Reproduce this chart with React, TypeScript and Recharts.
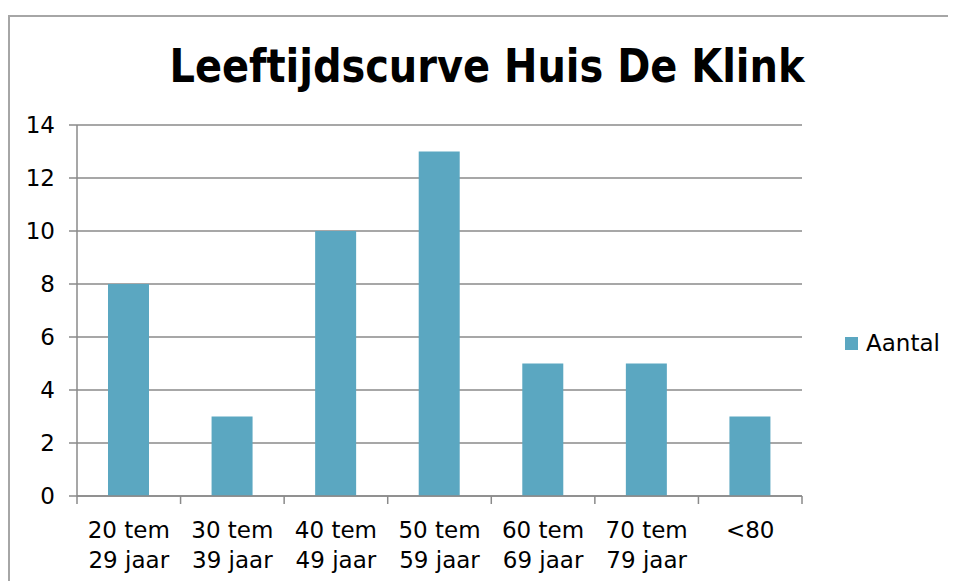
import React from "react";
import { BarChart, Bar, XAxis, YAxis, CartesianGrid } from "recharts";

const categories = ["20 tem|29 jaar", "30 tem|39 jaar", "40 tem|49 jaar", "50 tem|59 jaar", "60 tem|69 jaar", "70 tem|79 jaar", "<80"];
const aantal = [8, 3, 10, 13, 5, 5, 3];
const yTicks = [0, 2, 4, 6, 8, 10, 12, 14];
const seriesName = "Aantal";
const title = "Leeftijdscurve Huis De Klink";

const data = categories.map((c, i) => ({ name: c, Aantal: aantal[i] }));

const W = 948;
const H = 573;
const M = { top: 117, right: 154, bottom: 5, left: 9 };
const YW = 60;
const XH = 80;
const PLOT_W = W - M.left - M.right - YW;
const BW = PLOT_W / categories.length;
const FONT = "'DejaVu Sans', Verdana, sans-serif";
const AXIS = "#8a8a8a";
const BAR = "#5ba7c1";

const XTick = (props: any) => {
  const { x, y, payload, index } = props;
  const lines = String(payload.value).split("|");
  const top = y - 8;
  return (
    <g>
      <line x1={x - BW / 2} x2={x - BW / 2} y1={top} y2={top + 8} stroke={AXIS} strokeWidth={1.5} />
      {index === categories.length - 1 && (
        <line x1={x + BW / 2} x2={x + BW / 2} y1={top} y2={top + 8} stroke={AXIS} strokeWidth={1.5} />
      )}
      {lines.map((l, i) => (
        <text key={i} x={x} y={top + 42 + i * 30} textAnchor="middle" fontSize={23} fontFamily={FONT} fill="#000">
          {l}
        </text>
      ))}
    </g>
  );
};

export default function App() {
  return (
    <div style={{ position: "relative", width: W, height: H }}>
      <div
        style={{
          position: "absolute",
          left: 0,
          top: 7,
          width: W,
          height: H - 7,
          borderLeft: "2px solid #a6a6a6",
          borderTop: "2px solid #a6a6a6",
          boxSizing: "border-box",
        }}
      />
      <svg style={{ position: "absolute", left: 0, top: 0 }} width={W} height={110}>
        <text
          x={479}
          y={74}
          textAnchor="middle"
          fontSize={47}
          fontWeight="bold"
          fontFamily="'DejaVu Sans Condensed', 'DejaVu Sans', sans-serif"
          textLength={635}
          lengthAdjust="spacingAndGlyphs"
          fill="#000"
        >
          {title}
        </text>
      </svg>
      <div style={{ position: "absolute", left: 0, top: 0 }}>
        <BarChart width={W} height={H} data={data} margin={M}>
          <CartesianGrid horizontal vertical={false} stroke={AXIS} strokeWidth={1.5} />
          <XAxis
            dataKey="name"
            height={XH}
            stroke={AXIS}
            strokeWidth={1.5}
            tickLine={false}
            tick={<XTick />}
            interval={0}
          />
          <YAxis
            width={YW}
            domain={[0, 14]}
            ticks={yTicks}
            stroke={AXIS}
            strokeWidth={1.5}
            tickSize={8}
            tickMargin={14}
            tick={{ fontSize: 23, fontFamily: FONT, fill: "#000" }}
            interval={0}
          />
          <Bar dataKey="Aantal" fill={BAR} barSize={41} isAnimationActive={false} />
        </BarChart>
      </div>
      <div
        style={{
          position: "absolute",
          left: 837,
          top: 322,
          display: "flex",
          alignItems: "center",
          fontFamily: FONT,
          fontSize: 23,
          color: "#000",
        }}
      >
        <span style={{ display: "inline-block", width: 13, height: 13, background: BAR, marginRight: 8 }} />
        <span>{seriesName}</span>
      </div>
    </div>
  );
}
